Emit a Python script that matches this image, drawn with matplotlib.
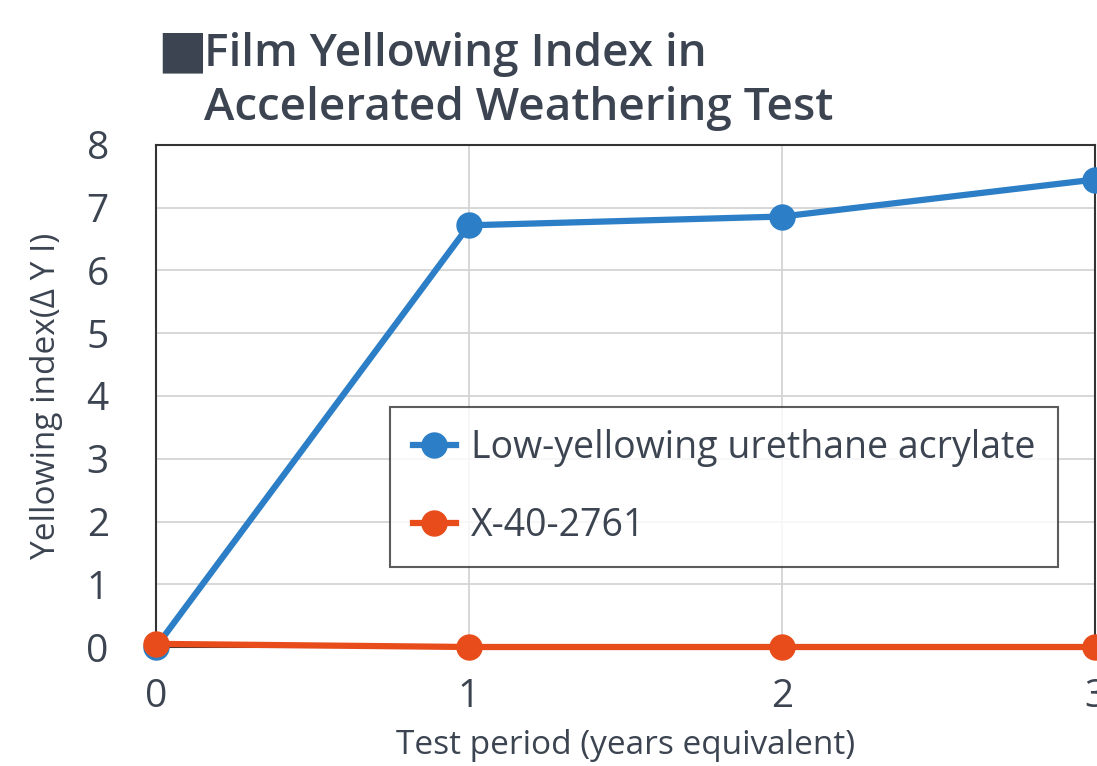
import matplotlib
matplotlib.use("Agg")
import matplotlib.pyplot as plt

# data
years = [0, 1, 2, 3]
urethane = [0.0, 6.72, 6.86, 7.45]
x40 = [0.05, 0.0, 0.0, 0.0]
series_names = ["Low-yellowing urethane acrylate", "X-40-2761"]

txt = "#3b4450"
blue = "#2c7fc6"
orange = "#e84c1a"

plt.rcParams["font.family"] = ["Open Sans", "DejaVu Sans"]

fig = plt.figure(figsize=(10.97, 7.66), dpi=100)
ax = fig.add_axes([156 / 1097, 1 - 647 / 766, (1095 - 156) / 1097, (647 - 145) / 766])

ax.plot(years, urethane, color=blue, lw=4.5, marker="o", ms=18, clip_on=False,
        label=series_names[0], zorder=3)
ax.plot(years, x40, color=orange, lw=4.5, marker="o", ms=18, clip_on=False,
        label=series_names[1], zorder=4)

ax.set_xlim(0, 3)
ax.set_ylim(0, 8)
ax.set_xticks(years)
ax.set_yticks(range(0, 9))
ax.grid(True, color="#d4d4d4", lw=1.3)
ax.set_axisbelow(True)
for s in ax.spines.values():
    s.set_color("#333333")
    s.set_linewidth(1.5)
ax.tick_params(length=0, labelsize=28, labelcolor=txt)
ax.tick_params(axis="y", pad=34)
ax.tick_params(axis="x", pad=22)

ax.set_xlabel("Test period (years equivalent)", fontsize=24, color=txt, labelpad=10)
ax.set_ylabel("Yellowing index(Δ Y I)", fontsize=24, color=txt, labelpad=17)

leg = ax.legend(loc="upper left", bbox_to_anchor=((390 - 156) / 939, (647 - 407) / 502),
                fontsize=27, frameon=True, fancybox=False, edgecolor="#333333",
                borderaxespad=0, borderpad=0.6, labelspacing=1.05, handlelength=1.15,
                handletextpad=0.4, markerscale=1.0)
leg.get_frame().set_linewidth(1.5)
for t in leg.get_texts():
    t.set_color(txt)

fig.text(157 / 1097, 1 - 66 / 766, "■", fontsize=38, color=txt, va="baseline")
fig.text(204 / 1097, 1 - 66 / 766, "Film Yellowing Index in", fontsize=33,
         color=txt, va="baseline", weight="semibold")
fig.text(204 / 1097, 1 - 120 / 766, "Accelerated Weathering Test", fontsize=33,
         color=txt, va="baseline", weight="semibold")

fig.savefig("out.png", dpi=100)
